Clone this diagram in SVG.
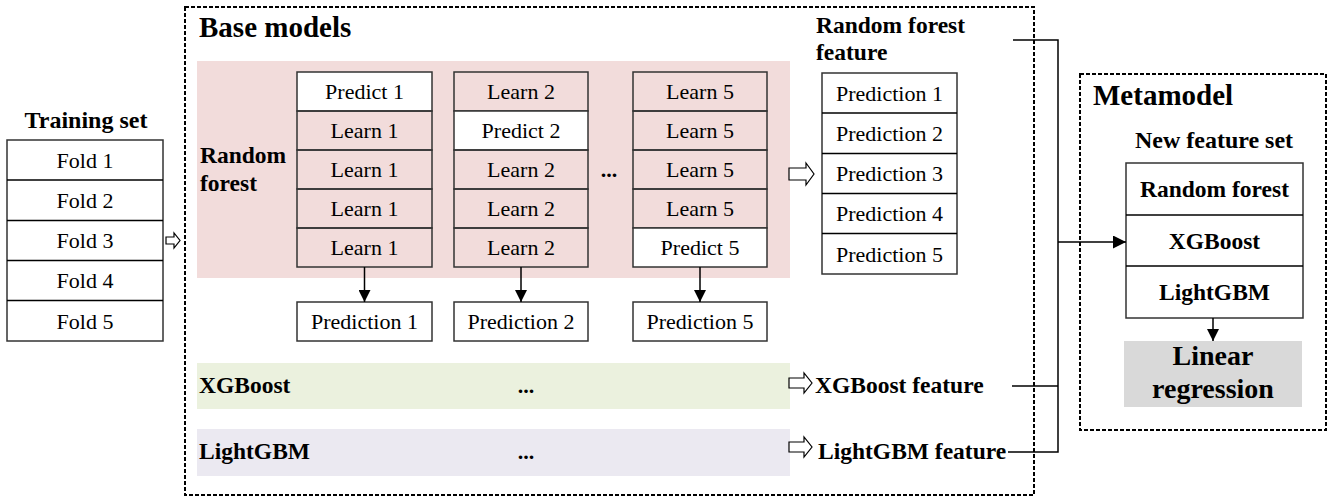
<svg xmlns="http://www.w3.org/2000/svg" width="1331" height="497" viewBox="0 0 1331 497">
<defs>
<style>
.t{font-family:"Liberation Serif","Times New Roman",serif;font-size:22px;fill:#000;text-anchor:middle}
.b{font-family:"Liberation Serif","Times New Roman",serif;font-weight:bold;fill:#000}
.c{text-anchor:middle}
.box{fill:none;stroke:#333;stroke-width:1.5}
.wbox{fill:#fff;stroke:#333;stroke-width:1.5}
.dash{fill:none;stroke:#000;stroke-width:2;stroke-dasharray:4 2}
.ln{fill:none;stroke:#000;stroke-width:1.5}
.hol{fill:#fff;stroke:#000;stroke-width:1.2}
</style>
<marker id="ah" viewBox="0 0 12 12" refX="12" refY="6" markerWidth="12" markerHeight="12" markerUnits="userSpaceOnUse" orient="auto"><path d="M0,0 L12,6 L0,12 z" fill="#000"/></marker>
<marker id="ah2" viewBox="0 0 12 12" refX="12" refY="6" markerWidth="13" markerHeight="13" markerUnits="userSpaceOnUse" orient="auto"><path d="M0,0 L12,6 L0,12 z" fill="#000"/></marker>
</defs>

<g id="training-set">
<text class="b c" x="86" y="128" font-size="24">Training set</text>
<rect class="wbox" x="7" y="140" width="156" height="201"/>
<line class="ln" x1="7" y1="180" x2="163" y2="180" stroke="#333"/>
<line class="ln" x1="7" y1="220.5" x2="163" y2="220.5" stroke="#333"/>
<line class="ln" x1="7" y1="260.5" x2="163" y2="260.5" stroke="#333"/>
<line class="ln" x1="7" y1="300.5" x2="163" y2="300.5" stroke="#333"/>
<text class="t" x="85" y="167.5">Fold 1</text>
<text class="t" x="85" y="208">Fold 2</text>
<text class="t" x="85" y="248">Fold 3</text>
<text class="t" x="85" y="288">Fold 4</text>
<text class="t" x="85" y="328.5">Fold 5</text>
</g>

<g id="arrow-training">
<polygon class="hol" points="166,237 174,237 174,233 180,240.5 174,248 174,244 166,244"/>
</g>

<g id="base-models">
<rect class="dash" x="185" y="7" width="849" height="488"/>
<text class="b" x="199" y="37" font-size="29">Base models</text>
</g>

<g id="random-forest">
<rect x="197" y="61" width="593" height="217" fill="#f2dcdb"/>
<text class="b" x="200" y="163" font-size="23.5">Random</text>
<text class="b" x="200" y="191" font-size="23.5">forest</text>
</g>

<g id="fold-col1">
<rect class="wbox" x="297" y="72" width="135" height="39"/>
<rect class="box" x="297" y="111" width="135" height="39"/>
<rect class="box" x="297" y="150" width="135" height="39"/>
<rect class="box" x="297" y="189" width="135" height="39"/>
<rect class="box" x="297" y="228" width="135" height="39"/>
<text class="t" x="364.5" y="99">Predict 1</text>
<text class="t" x="364.5" y="138">Learn 1</text>
<text class="t" x="364.5" y="177">Learn 1</text>
<text class="t" x="364.5" y="216">Learn 1</text>
<text class="t" x="364.5" y="255">Learn 1</text>
</g>

<g id="fold-col2">
<rect class="box" x="454" y="72" width="134" height="39"/>
<rect class="wbox" x="454" y="111" width="134" height="39"/>
<rect class="box" x="454" y="150" width="134" height="39"/>
<rect class="box" x="454" y="189" width="134" height="39"/>
<rect class="box" x="454" y="228" width="134" height="39"/>
<text class="t" x="521" y="99">Learn 2</text>
<text class="t" x="521" y="138">Predict 2</text>
<text class="t" x="521" y="177">Learn 2</text>
<text class="t" x="521" y="216">Learn 2</text>
<text class="t" x="521" y="255">Learn 2</text>
</g>

<g id="dots-rf">
<text class="b c" x="609" y="177" font-size="22">...</text>
</g>

<g id="fold-col3">
<rect class="box" x="633" y="72" width="134" height="39"/>
<rect class="box" x="633" y="111" width="134" height="39"/>
<rect class="box" x="633" y="150" width="134" height="39"/>
<rect class="box" x="633" y="189" width="134" height="39"/>
<rect class="wbox" x="633" y="228" width="134" height="39"/>
<text class="t" x="700" y="99">Learn 5</text>
<text class="t" x="700" y="138">Learn 5</text>
<text class="t" x="700" y="177">Learn 5</text>
<text class="t" x="700" y="216">Learn 5</text>
<text class="t" x="700" y="255">Predict 5</text>
</g>

<g id="prediction-1">
<rect class="wbox" x="297" y="302" width="135" height="39"/>
<text class="t" x="364.5" y="329">Prediction 1</text>
</g>
<g id="prediction-2">
<rect class="wbox" x="454" y="302" width="134" height="39"/>
<text class="t" x="521" y="329">Prediction 2</text>
</g>
<g id="prediction-5">
<rect class="wbox" x="633" y="302" width="134" height="39"/>
<text class="t" x="700" y="329">Prediction 5</text>
</g>

<g id="rf-feature">
<text class="b" x="816" y="33" font-size="23.5">Random forest</text>
<text class="b" x="816" y="60" font-size="23.5">feature</text>
<rect class="wbox" x="822" y="73" width="135" height="201"/>
<line class="ln" x1="822" y1="113" x2="957" y2="113" stroke="#333"/>
<line class="ln" x1="822" y1="153.5" x2="957" y2="153.5" stroke="#333"/>
<line class="ln" x1="822" y1="193.5" x2="957" y2="193.5" stroke="#333"/>
<line class="ln" x1="822" y1="233.5" x2="957" y2="233.5" stroke="#333"/>
<text class="t" x="889.5" y="100.5">Prediction 1</text>
<text class="t" x="889.5" y="141">Prediction 2</text>
<text class="t" x="889.5" y="181">Prediction 3</text>
<text class="t" x="889.5" y="221">Prediction 4</text>
<text class="t" x="889.5" y="261.5">Prediction 5</text>
</g>

<g id="xgboost">
<rect x="197" y="363" width="593" height="46" fill="#ebf1de"/>
<text class="b" x="199" y="393" font-size="23.5">XGBoost</text>
<text class="b c" x="526" y="393" font-size="22">...</text>
</g>
<g id="xgboost-feature">
<text class="b" x="815" y="393" font-size="23.5">XGBoost feature</text>
</g>

<g id="lightgbm">
<rect x="197" y="429" width="593" height="47" fill="#ebe9f1"/>
<text class="b" x="199" y="459" font-size="23.5">LightGBM</text>
<text class="b c" x="526" y="459" font-size="22">...</text>
</g>
<g id="lightgbm-feature">
<text class="b" x="818" y="459" font-size="23.5">LightGBM feature</text>
</g>

<g id="metamodel">
<rect class="dash" x="1080" y="74" width="246" height="356"/>
<text class="b" x="1093" y="105" font-size="29">Metamodel</text>
<text class="b c" x="1214" y="148" font-size="24">New feature set</text>
</g>

<g id="new-feature-set">
<rect class="wbox" x="1126" y="163" width="177" height="155"/>
<line class="ln" x1="1126" y1="215" x2="1303" y2="215" stroke="#333"/>
<line class="ln" x1="1126" y1="266" x2="1303" y2="266" stroke="#333"/>
<text class="b c" x="1214.5" y="197" font-size="23.5">Random forest</text>
<text class="b c" x="1214.5" y="249" font-size="23.5">XGBoost</text>
<text class="b c" x="1214.5" y="300" font-size="23.5">LightGBM</text>
</g>

<g id="linear-regression">
<rect x="1124" y="341" width="178" height="66" fill="#d9d9d9"/>
<text class="b c" x="1213" y="365" font-size="28">Linear</text>
<text class="b c" x="1213" y="398" font-size="28">regression</text>
</g>

<g id="connectors">
<line class="ln" x1="364.5" y1="267" x2="364.5" y2="302" marker-end="url(#ah)"/>
<line class="ln" x1="521" y1="267" x2="521" y2="302" marker-end="url(#ah)"/>
<line class="ln" x1="700" y1="267" x2="700" y2="302" marker-end="url(#ah)"/>
<polygon class="hol" points="789,168 806,168 806,163 814,174 806,185 806,180 789,180"/>
<polygon class="hol" points="789,378 804,378 804,373 812,383 804,393 804,388 789,388"/>
<polygon class="hol" points="789,442 804,442 804,437 812,447 804,457 804,452 789,452"/>
<polyline class="ln" points="1013,40 1058,40 1058,452 1008,452"/>
<line class="ln" x1="1012" y1="386" x2="1058" y2="386"/>
<line class="ln" x1="1058" y1="242" x2="1126" y2="242" marker-end="url(#ah2)"/>
<line class="ln" x1="1213" y1="318" x2="1213" y2="341" marker-end="url(#ah)"/>
</g>
</svg>
